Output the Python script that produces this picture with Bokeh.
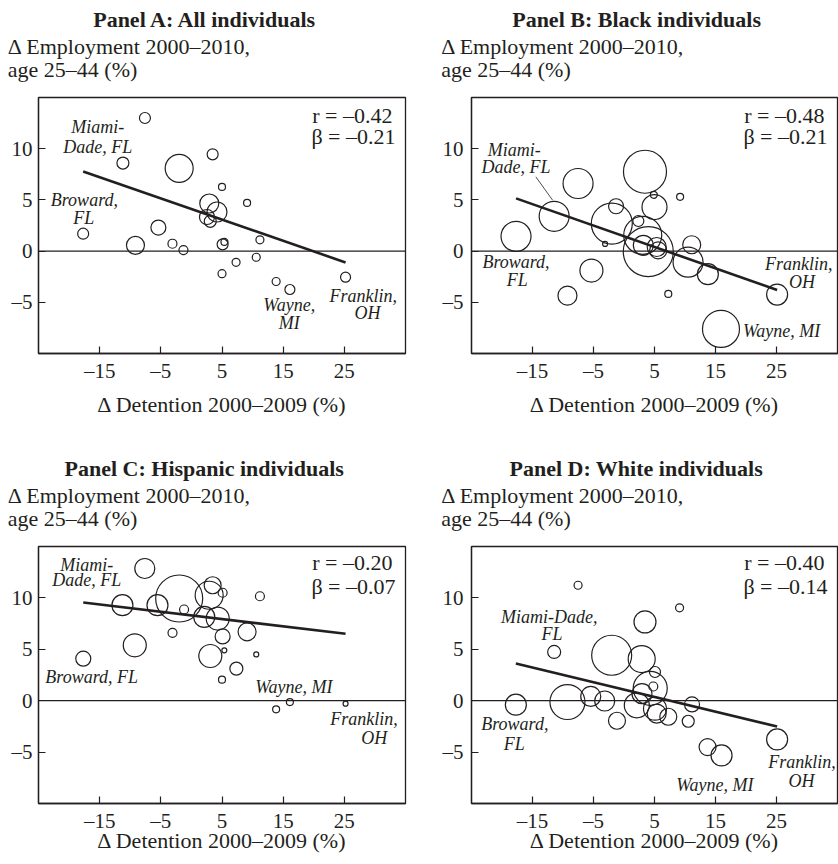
from bokeh.plotting import figure
from bokeh.models import Label, Span, FixedTicker, Title
from bokeh.layouts import column, row
from bokeh.embed import file_html
from bokeh.resources import INLINE

SERIF = "Liberation Serif"
INK = "#231f20"

# ---------------- data ----------------
x_ticks = [-15, -5, 5, 15, 25]
x_tick_labels = ["–15", "–5", "5", "15", "25"]
y_ticks = [-5, 0, 5, 10]
y_tick_labels = ["–5", "0", "5", "10"]

titles = ["Panel A: All individuals", "Panel B: Black individuals",
          "Panel C: Hispanic individuals", "Panel D: White individuals"]
y_label_lines = ["Δ Employment 2000–2010,", "age 25–44 (%)"]
x_label = "Δ Detention 2000–2009 (%)"

r_values = ["–0.42", "–0.48", "–0.20", "–0.40"]
beta_values = ["–0.21", "–0.21", "–0.07", "–0.14"]

# fitted lines (slope, intercept)
a_fit = (-0.207, 4.11)
b_fit = (-0.209, 1.45)
c_fit = (-0.071, 8.30)
d_fit = (-0.143, 1.08)

# Panel A: all individuals
a_x = [-7.6, -11.2, -2.0, 3.47, 5.0, 9.1, 2.92, 4.18, 2.54, 3.08, -17.7, -5.4,
       -9.15, -3.1, -1.3, 5.1, 5.4, 11.2, 10.6, 7.3, 5.0, 13.85, 16.1, 25.2]
a_y = [13.0, 8.6, 8.08, 9.45, 6.27, 4.7, 4.65, 3.82, 3.33, 2.91, 1.7, 2.3,
       0.56, 0.72, 0.1, 0.66, 0.9, 1.1, -0.6, -1.1, -2.2, -2.97, -3.75, -2.55]
a_w = [11, 12, 28, 11, 7, 7, 19, 20, 15, 12, 11, 15,
       18, 9, 9, 11, 7, 8, 8, 8, 8, 8, 10, 10]

# Panel B: Black individuals
b_x = [3.44, -7.53, 4.9, 9.2, 5.0, -11.45, -1.3, -2.0, -17.7, 2.35, -3.1, 3.98,
       3.07, 3.17, 5.36, 5.6, 11.1, 10.5, 13.75, -5.34, -9.27, 7.26, 25.1, 15.9]
b_y = [7.75, 6.6, 5.5, 5.3, 4.3, 3.4, 4.38, 2.69, 1.44, 2.94, 0.7, -0.05,
       1.54, 0.56, 0.4, 0.07, 0.62, -1.08, -2.25, -1.9, -4.35, -4.18, -4.25, -7.6]
b_w = [43, 30, 7, 7, 25, 30, 15, 41, 30, 11, 5, 50,
       38, 20, 19, 17, 18, 30, 21, 23, 19, 7, 21, 37]

# Panel C: Hispanic individuals
c_x = [-7.62, -11.28, -5.55, -2.0, -1.2, -3.09, 3.47, 2.9, 5.1, 11.2, 2.1, 4.3,
       5.1, 9.1, -9.26, -17.68, 3.09, 5.38, 7.35, 5.0, 10.6, 13.85, 16.1, 25.2]
c_y = [12.86, 9.29, 9.29, 9.94, 8.87, 6.6, 11.23, 10.26, 10.5, 10.16, 8.15, 7.99,
       6.25, 6.7, 5.39, 4.09, 4.35, 4.9, 3.12, 2.05, 4.5, -0.84, -0.13, -0.29]
c_w = [20, 21, 21, 47, 9, 9, 17, 28, 9, 9, 21, 23,
       15, 18, 23, 15, 23, 5, 13, 7, 5, 7, 7, 5]

# Panel D: White individuals
d_x = [-7.53, 9.11, 3.44, -11.45, -2.02, 2.9, 5.08, 4.8, 4.3, 2.95, -17.73, -9.27,
       -5.45, -3.16, 2.1, 5.08, 5.36, 7.26, -1.15, 11.15, 10.53, 13.7, 15.99, 25.1]
d_y = [11.23, 9.03, 7.66, 4.74, 4.42, 4.05, 2.79, 1.38, 1.2, 0.68, -0.39, -0.13,
       0.42, -0.03, -0.45, -0.78, -1.25, -1.56, -1.95, -0.36, -2.0, -4.51, -5.32, -3.77]
d_w = [8, 8, 22, 13, 40, 27, 11, 9, 34, 20, 21, 35,
       20, 20, 25, 23, 19, 17, 17, 15, 12, 17, 21, 21]

# county annotations: (text, x, y, align)
a_notes = [("Miami-", -15.3, 12.1, "center"), ("Dade, FL", -15.3, 10.15, "center"),
           ("Broward,", -17.5, 4.97, "center"), ("FL", -17.6, 3.2, "center"),
           ("Wayne,", 16.0, -5.3, "center"), ("MI", 16.0, -6.99, "center"),
           ("Franklin,", 28.1, -4.34, "center"), ("OH", 28.8, -6.0, "center")]
b_notes = [("Miami-", -18.0, 9.87, "center"), ("Dade, FL", -17.7, 8.2, "center"),
           ("Broward,", -17.7, -1.08, "center"), ("FL", -17.5, -2.85, "center"),
           ("Franklin,", 28.65, -1.24, "center"), ("OH", 29.2, -3.04, "center"),
           ("Wayne, MI", 19.5, -7.77, "left")]
c_notes = [("Miami-", -17.1, 13.19, "center"), ("Dade, FL", -17.1, 11.72, "center"),
           ("Broward, FL", -16.3, 2.3, "center"), ("Wayne, MI", 16.75, 1.37, "center"),
           ("Franklin,", 28.2, -1.75, "center"), ("OH", 29.9, -3.6, "center")]
d_notes = [("Miami-Dade,", -12.27, 8.15, "center"), ("FL", -11.8, 6.46, "center"),
           ("Broward,", -17.9, -2.31, "center"), ("FL", -18.0, -4.19, "center"),
           ("Wayne, MI", 14.9, -8.16, "center"),
           ("Franklin,", 29.2, -5.98, "center"), ("OH", 29.1, -7.77, "center")]

# leader line in panel B (Miami-Dade label to its bubble)
b_leader = ([-14.45, -11.7], [7.25, 4.97])

X_RANGE = (-25, 35)
Y_RANGE = (-10, 15)
COL_W = 419


def make_panel(i, xs, ys, ws, fit, notes, col, rw, leader=None):
    top_row = rw == 0
    left_col = col == 0
    fig_h = 440 if top_row else 424
    mb_top = 97 if top_row else 106
    mb_bot = 87 if top_row else 61
    mb_left = 38 if left_col else 52
    mb_right = 14 if left_col else 1
    frame_h = fig_h - mb_top - mb_bot
    frame_w = COL_W - mb_left - mb_right

    p = figure(width=COL_W, height=fig_h, x_range=X_RANGE, y_range=Y_RANGE,
               output_backend="svg", toolbar_location=None, title=None,
               min_border_left=mb_left, min_border_right=mb_right,
               min_border_top=mb_top, min_border_bottom=mb_bot)
    p.background_fill_color = "white"
    p.border_fill_color = "white"
    p.outline_line_color = INK
    p.outline_line_width = 1.3
    p.xgrid.visible = False
    p.ygrid.visible = False

    for ax, ticks, labels in ((p.xaxis[0], x_ticks, x_tick_labels),
                              (p.yaxis[0], y_ticks, y_tick_labels)):
        ax.ticker = FixedTicker(ticks=ticks)
        ax.major_label_overrides = {t: l for t, l in zip(ticks, labels)}
        ax.major_tick_in = 7
        ax.major_tick_out = 0
        ax.minor_tick_line_color = None
        ax.axis_line_color = INK
        ax.axis_line_width = 1.3
        ax.major_tick_line_color = INK
        ax.major_tick_line_width = 1.2
        ax.major_label_text_font = SERIF
        ax.major_label_text_font_size = "21px"
        ax.major_label_text_color = INK
    p.xaxis.major_label_standoff = 5
    p.yaxis.major_label_standoff = 6 if left_col else 8
    p.xaxis.axis_label = x_label
    p.xaxis.axis_label_text_font = SERIF
    p.xaxis.axis_label_text_font_size = "22px"
    p.xaxis.axis_label_text_font_style = "normal"
    p.xaxis.axis_label_text_color = INK
    p.xaxis.axis_label_standoff = 6 if top_row else -8

    # panels above the frame, nearest first: a small gap, the horizontal
    # y-axis label (two lines) and the panel title
    p.add_layout(Title(text=" ", text_font_size="1px", standoff=13, text_color=INK), "above")
    p.add_layout(Title(text=y_label_lines[0] + "\n" + y_label_lines[1], align="left",
                       offset=(-30.7 if left_col else -30.3), standoff=0,
                       vertical_align="bottom", text_font=SERIF, text_font_size="22px",
                       text_font_style="normal", text_color=INK, text_line_height=0.9),
                 "above")
    title_left = {0: 54.7, 1: 40.7, 2: 26.0, 3: 38.0}[i]
    p.add_layout(Title(text=titles[i], align="left", offset=title_left, standoff=0,
                       vertical_align="bottom", text_font=SERIF, text_font_size="22px",
                       text_font_style="bold", text_color=INK),
                 "above")

    p.add_layout(Span(location=0, dimension="width", line_color=INK, line_width=1.2))

    x0, x1 = min(xs), max(xs)
    slope, icpt = fit
    p.line([x0, x1], [icpt + slope * x0, icpt + slope * x1], line_color=INK, line_width=2.6)

    p.scatter(xs, ys, size=ws, marker="circle", fill_color=None,
              line_color=INK, line_width=1.2)

    if leader is not None:
        p.line(leader[0], leader[1], line_color=INK, line_width=0.8)

    for txt, lx, ly, al in notes:
        p.add_layout(Label(x=lx, y=ly, text=txt, text_font=SERIF, text_font_style="italic",
                           text_font_size="18px", text_color=INK, text_align=al,
                           text_baseline="middle"))

    # statistics text (top right of the frame), vertically centred on the text
    r_dy, b_dy = (17.5, 39.0) if top_row else (15.5, 40.0)
    p.add_layout(Label(x=frame_w - 13, y=frame_h - r_dy, x_units="screen", y_units="screen",
                       text="r = " + r_values[i], text_font=SERIF, text_font_size="22px",
                       text_color=INK, text_align="right", text_baseline="middle"))
    p.add_layout(Label(x=frame_w - 10, y=frame_h - b_dy, x_units="screen", y_units="screen",
                       text="β = " + beta_values[i], text_font=SERIF, text_font_size="22px",
                       text_color=INK, text_align="right", text_baseline="middle"))
    return p


pa = make_panel(0, a_x, a_y, a_w, a_fit, a_notes, 0, 0)
pb = make_panel(1, b_x, b_y, b_w, b_fit, b_notes, 1, 0, leader=b_leader)
pc = make_panel(2, c_x, c_y, c_w, c_fit, c_notes, 0, 1)
pd = make_panel(3, d_x, d_y, d_w, d_fit, d_notes, 1, 1)

layout = column(row(pa, pb, spacing=0), row(pc, pd, spacing=0), spacing=0)
open("out.html", "w").write(file_html(layout, INLINE))
